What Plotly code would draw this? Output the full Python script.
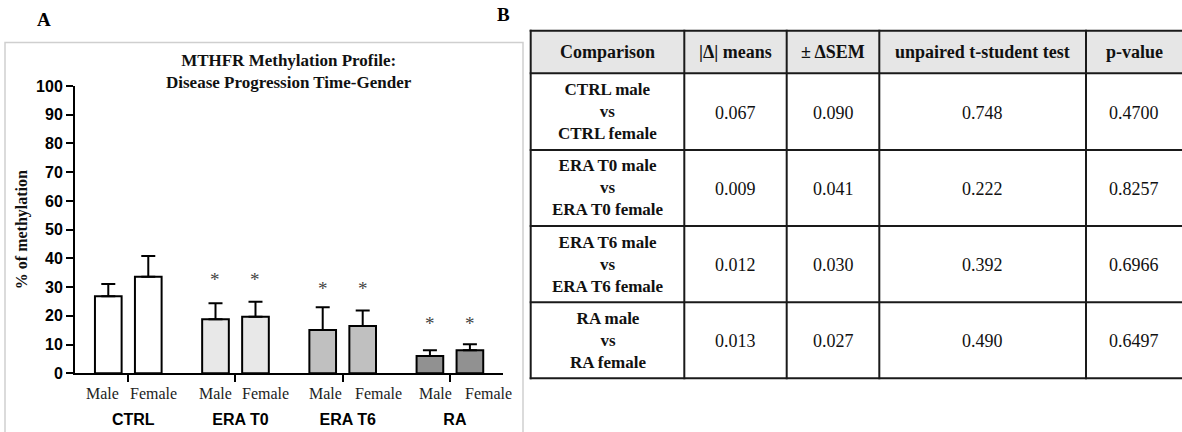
import plotly.graph_objects as go

# ---------------- data ----------------
groups = ["CTRL", "ERA T0", "ERA T6", "RA"]
sexes = ["Male", "Female"]
male_mean = [26.8, 18.8, 15.1, 6.0]
female_mean = [33.6, 19.7, 16.5, 8.0]
male_sem = [4.3, 5.6, 7.9, 2.0]
female_sem = [7.2, 5.2, 5.4, 2.1]
# significance markers (None = no marker); height in % of methylation
male_star_y = [None, 33.6, 30.4, 18.3]
female_star_y = [None, 33.6, 30.4, 18.3]
yticks = [0, 10, 20, 30, 40, 50, 60, 70, 80, 90, 100]

# table data
tbl_header = ["Comparison", "|Δ| means", "± ΔSEM", "unpaired t-student test", "p-value"]
cmp_a = ["CTRL male", "ERA T0 male", "ERA T6 male", "RA male"]
cmp_b = ["CTRL female", "ERA T0 female", "ERA T6 female", "RA female"]
delta_means = [0.067, 0.009, 0.012, 0.013]
delta_sem = [0.090, 0.041, 0.030, 0.027]
t_test = [0.748, 0.222, 0.392, 0.490]
p_value = [0.4700, 0.8257, 0.6966, 0.6497]

# ---------------- style / layout ----------------
W, H = 1182, 432
SERIF = "Liberation Serif"
SANS = "Liberation Sans"
group_colors = ["#ffffff", "#e8e8e8", "#c0c0c0", "#919191"]
sex_label_shift = {"Male": [-26, -20, -17, -14], "Female": [25, 30, 36, 39]}
star_shift = {"Male": -20, "Female": 20}
# table grid (pixels)
col_edges = [530.7, 684.3, 786.7, 879.3, 1086.0, 1182.0]
row_edges = [30.7, 73.3, 150.0, 226.0, 302.3, 378.3]


def px_x(p):
    return p / W


def px_y(p):
    return 1 - p / H


fig = go.Figure()

for sex, mean, sem in [("Male", male_mean, male_sem), ("Female", female_mean, female_sem)]:
    fig.add_trace(go.Bar(
        x=groups, y=mean, name=sex,
        marker=dict(color=group_colors, line=dict(color="black", width=2)),
        error_y=dict(type="data", symmetric=False, array=sem,
                     arrayminus=[0] * len(sem), color="black",
                     thickness=2, width=7),
        showlegend=False, hoverinfo="skip",
    ))

annotations = []
# Male / Female labels under bars
for sex in sexes:
    for i, g in enumerate(groups):
        annotations.append(dict(
            x=g, y=0, xref="x", yref="y", text=sex, showarrow=False,
            xshift=sex_label_shift[sex][i], yshift=-20, yanchor="middle",
            font=dict(family=SERIF, size=16, color="#222")))
# asterisks
for sex, stars in [("Male", male_star_y), ("Female", female_star_y)]:
    for g, sy in zip(groups, stars):
        if sy is None:
            continue
        annotations.append(dict(
            x=g, y=sy, xref="x", yref="y", text="*", showarrow=False,
            xshift=star_shift[sex], yanchor="middle", yshift=-3,
            font=dict(family=SERIF, size=19, color="#444")))
# chart title
annotations.append(dict(
    x=px_x(289), y=px_y(71), xref="paper", yref="paper",
    xanchor="center", yanchor="middle",
    text="<b>MTHFR Methylation Profile:<br>Disease Progression Time-Gender</b>",
    showarrow=False, font=dict(family=SERIF, size=17, color="#111"),
    align="center"))
# panel letters
annotations.append(dict(x=px_x(43.5), y=px_y(20), xref="paper", yref="paper",
                        xanchor="center", yanchor="middle",
                        text="<b>A</b>", showarrow=False,
                        font=dict(family=SERIF, size=19, color="black")))
annotations.append(dict(x=px_x(503.5), y=px_y(15), xref="paper", yref="paper",
                        xanchor="center", yanchor="middle",
                        text="<b>B</b>", showarrow=False,
                        font=dict(family=SERIF, size=19, color="black")))

# ---------------- table (built from the data lists) ----------------
shapes = [dict(type="rect", xref="paper", yref="paper",
               x0=px_x(5), x1=px_x(523), y0=-0.1, y1=px_y(42.5),
               line=dict(color="#cfcfcf", width=1.5), layer="below")]
# header background
shapes.append(dict(type="rect", xref="paper", yref="paper",
                   x0=px_x(col_edges[0]), x1=px_x(col_edges[-1]),
                   y0=px_y(row_edges[1]), y1=px_y(row_edges[0]),
                   fillcolor="#e6e6e6", line=dict(width=0), layer="below"))
for ry in row_edges:
    shapes.append(dict(type="line", xref="paper", yref="paper",
                       x0=px_x(col_edges[0] - 1), x1=px_x(col_edges[-1]),
                       y0=px_y(ry), y1=px_y(ry),
                       line=dict(color="#1a1a1a", width=2)))
for cx in col_edges[:-1]:
    shapes.append(dict(type="line", xref="paper", yref="paper",
                       x0=px_x(cx), x1=px_x(cx),
                       y0=px_y(row_edges[-1] + 1), y1=px_y(row_edges[0] - 1),
                       line=dict(color="#1a1a1a", width=2)))

col_centers = [(a + b) / 2 for a, b in zip(col_edges[:-1], col_edges[1:])]
row_centers = [(a + b) / 2 for a, b in zip(row_edges[:-1], row_edges[1:])]

for cx, h in zip(col_centers, tbl_header):
    annotations.append(dict(x=px_x(cx), y=px_y(row_centers[0]), xref="paper",
                            yref="paper", xanchor="center", yanchor="middle",
                            text=f"<b>{h}</b>", showarrow=False,
                            font=dict(family=SERIF, size=18, color="#111")))

col_texts = [
    [f"<b>{a}<br>vs<br>{b}</b>" for a, b in zip(cmp_a, cmp_b)],
    [f"{v:.3f}" for v in delta_means],
    [f"{v:.3f}" for v in delta_sem],
    [f"{v:.3f}" for v in t_test],
    [f"{v:.4f}" for v in p_value],
]
for ci, (cx, texts) in enumerate(zip(col_centers, col_texts)):
    for ry, t in zip(row_centers[1:], texts):
        annotations.append(dict(
            x=px_x(cx), y=px_y(ry + (0 if ci == 0 else 1)), xref="paper",
            yref="paper", xanchor="center", yanchor="middle", text=t,
            showarrow=False, align="center",
            font=dict(family=SERIF, size=17 if ci == 0 else 18, color="#111")))

fig.update_layout(
    width=W, height=H,
    margin=dict(l=0, r=0, t=0, b=0),
    paper_bgcolor="white", plot_bgcolor="white",
    barmode="group", bargap=0.254, bargroupgap=0.333,
    annotations=annotations,
    shapes=shapes,
    xaxis=dict(domain=[px_x(75), px_x(503.3)], range=[-0.497, 3.498],
               showline=True, linecolor="black", linewidth=2,
               ticks="outside", ticklen=7, tickwidth=2, tickcolor="black",
               tickfont=dict(family=SANS, size=16, color="black", weight="bold"),
               ticklabelstandoff=23, ticklabelshift=5,
               showgrid=False, zeroline=False, automargin=False, fixedrange=True),
    yaxis=dict(domain=[px_y(373.3), px_y(86)], range=[0, 100],
               tickvals=yticks,
               showline=True, linecolor="black", linewidth=2,
               ticks="outside", ticklen=7, tickwidth=2, tickcolor="black",
               tickfont=dict(family=SANS, size=16, color="black", weight="bold"),
               title=dict(text="<b>% of methylation</b>", standoff=4,
                          font=dict(family=SERIF, size=16, color="#111")),
               showgrid=False, zeroline=False, automargin=False, fixedrange=True),
)

fig.write_html("out.html")
